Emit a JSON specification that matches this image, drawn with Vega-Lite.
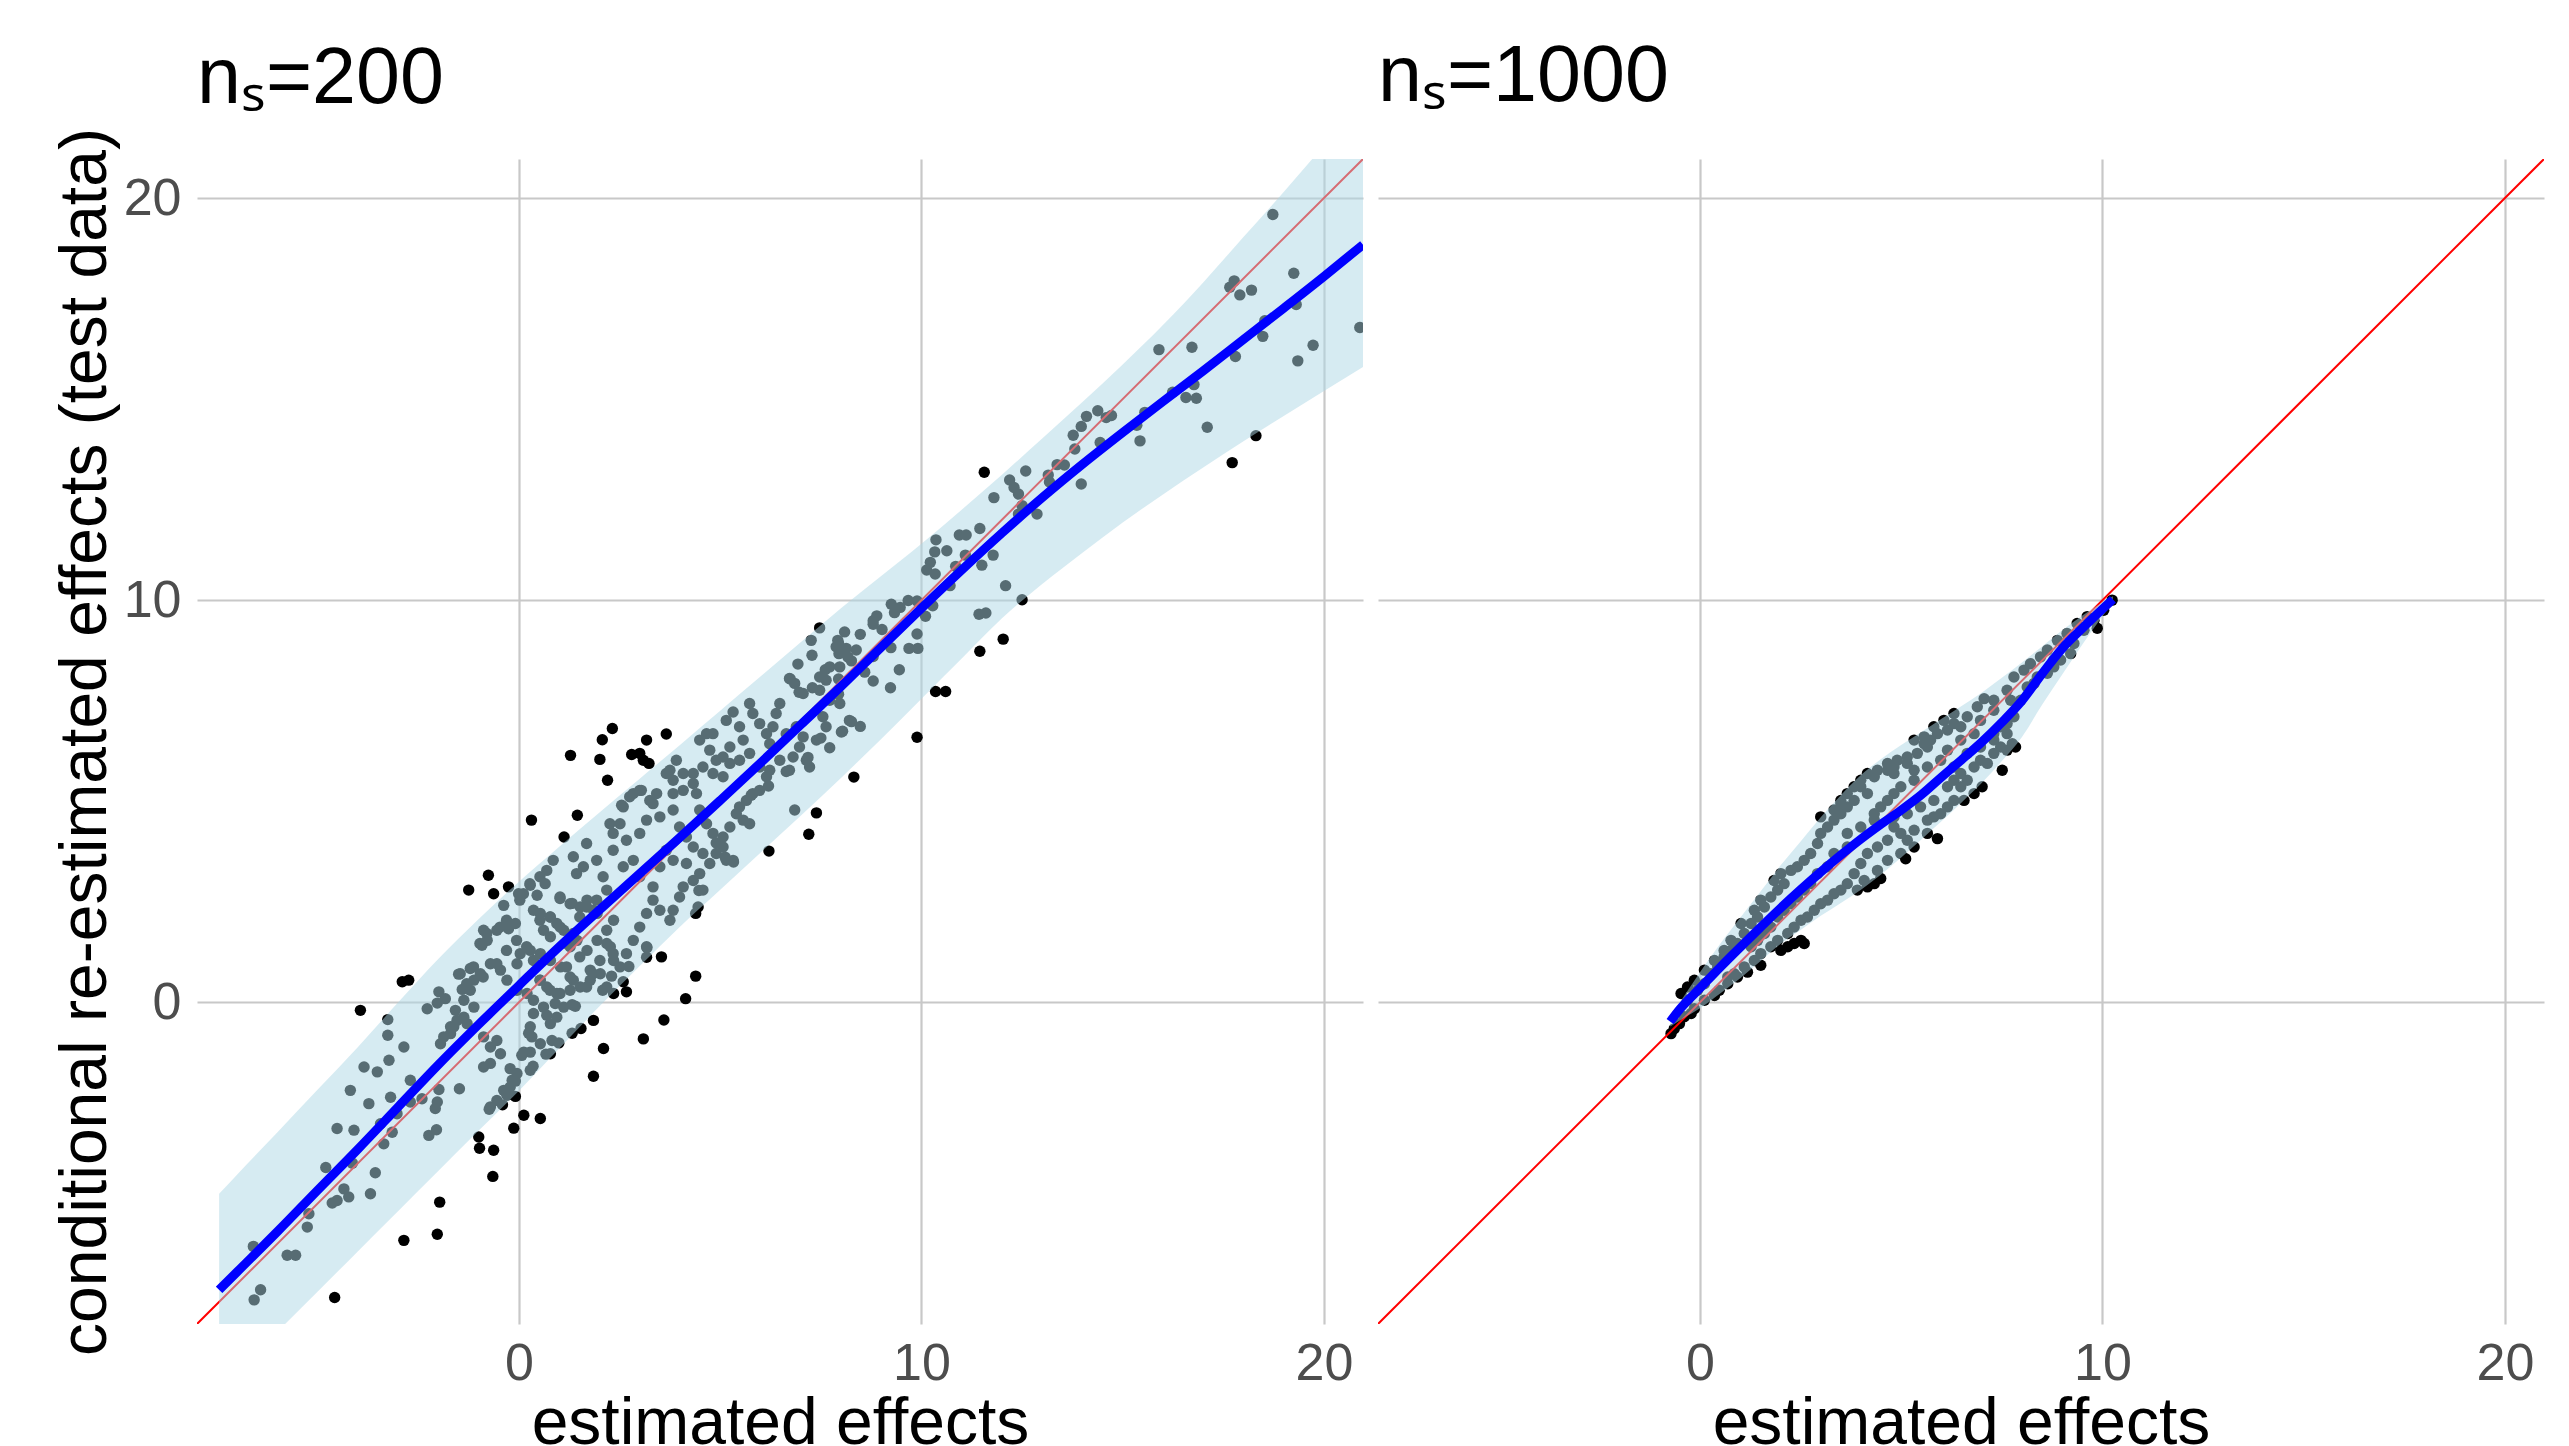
{
"$schema": "https://vega.github.io/schema/vega-lite/v6.json",
"background": "white",
"padding": {"left": 52, "top": 38, "right": 5, "bottom": 0},
"spacing": 15,
"config": {
  "view": {"stroke": null},
  "font": "Liberation Sans",
  "title": {"fontSize": 79, "fontWeight": "normal", "color": "#000000", "anchor": "start", "frame": "group", "baseline": "alphabetic"},
  "axis": {"grid": true, "gridColor": "#C8C8C8", "gridWidth": 2.2, "domain": false, "ticks": false, "labelFontSize": 52, "labelColor": "#4D4D4D", "titleFontSize": 66, "titleFontWeight": "normal", "titleColor": "#000000", "labelFlush": false}
},
"datasets": {
"diag": [{"x": -8, "y": -8}, {"x": 20.97, "y": 20.97}],
"s200": [
{"x":-7.45,"fit":-7.15,"lower":-9.64,"upper":-4.76},{"x":-7,"fit":-6.7,"lower":-9.2,"upper":-4.28},{"x":-6,"fit":-5.7,"lower":-8.19,"upper":-3.23},{"x":-5,"fit":-4.67,"lower":-7.19,"upper":-2.17},{"x":-4,"fit":-3.65,"lower":-6.19,"upper":-1.11},{"x":-3,"fit":-2.6,"lower":-5.19,"upper":0.0},{"x":-2,"fit":-1.55,"lower":-4.19,"upper":1.08},{"x":-1,"fit":-0.55,"lower":-3.19,"upper":2.07},{"x":0,"fit":0.42,"lower":-2.2,"upper":3.0},{"x":1,"fit":1.38,"lower":-1.15,"upper":3.87},{"x":2,"fit":2.3,"lower":-0.1,"upper":4.72},{"x":3,"fit":3.2,"lower":0.9,"upper":5.56},{"x":4,"fit":4.1,"lower":1.88,"upper":6.4},{"x":5,"fit":5.02,"lower":2.8,"upper":7.25},{"x":6,"fit":5.95,"lower":3.72,"upper":8.1},{"x":7,"fit":6.9,"lower":4.64,"upper":8.95},{"x":8,"fit":7.85,"lower":5.58,"upper":9.8},{"x":9,"fit":8.83,"lower":6.55,"upper":10.6},{"x":10,"fit":9.8,"lower":7.55,"upper":11.4},{"x":11,"fit":10.75,"lower":8.55,"upper":12.25},{"x":12,"fit":11.67,"lower":9.55,"upper":13.12},{"x":13,"fit":12.55,"lower":10.4,"upper":14.02},{"x":14,"fit":13.38,"lower":11.18,"upper":14.93},{"x":15,"fit":14.17,"lower":11.93,"upper":15.86},{"x":16,"fit":14.94,"lower":12.63,"upper":16.84},{"x":17,"fit":15.7,"lower":13.3,"upper":17.9},{"x":18,"fit":16.48,"lower":13.95,"upper":19.03},{"x":19,"fit":17.26,"lower":14.58,"upper":20.15},{"x":20,"fit":18.05,"lower":15.2,"upper":21.3},{"x":20.97,"fit":18.84,"lower":15.8,"upper":22.35}
],
"s1000": [
{"x":-0.74,"fit":-0.48,"lower":-0.6,"upper":-0.36},{"x":-0.5,"fit":-0.17,"lower":-0.45,"upper":0.0},{"x":0,"fit":0.35,"lower":-0.15,"upper":0.75},{"x":0.5,"fit":0.87,"lower":0.22,"upper":1.45},{"x":1,"fit":1.37,"lower":0.6,"upper":2.1},{"x":1.5,"fit":1.86,"lower":1.02,"upper":2.75},{"x":2,"fit":2.34,"lower":1.45,"upper":3.4},{"x":2.5,"fit":2.8,"lower":1.8,"upper":4.0},{"x":3,"fit":3.24,"lower":2.15,"upper":4.6},{"x":3.5,"fit":3.66,"lower":2.47,"upper":5.15},{"x":4,"fit":4.06,"lower":2.8,"upper":5.65},{"x":4.5,"fit":4.43,"lower":3.18,"upper":6.05},{"x":5,"fit":4.78,"lower":3.6,"upper":6.4},{"x":5.5,"fit":5.16,"lower":4.05,"upper":6.72},{"x":6,"fit":5.6,"lower":4.5,"upper":7.05},{"x":6.5,"fit":6.03,"lower":4.97,"upper":7.37},{"x":7,"fit":6.47,"lower":5.45,"upper":7.7},{"x":7.5,"fit":6.96,"lower":6.0,"upper":8.07},{"x":8,"fit":7.5,"lower":6.6,"upper":8.45},{"x":8.5,"fit":8.17,"lower":7.4,"upper":8.85},{"x":9,"fit":8.8,"lower":8.15,"upper":9.25},{"x":9.5,"fit":9.3,"lower":8.9,"upper":9.62},{"x":10,"fit":9.78,"lower":9.6,"upper":9.95},{"x":10.26,"fit":10.02,"lower":9.95,"upper":10.1}
],
"p200": [
{"x":-1.25,"y":2.79},{"x":-0.63,"y":2.70},{"x":-0.26,"y":2.87},{"x":-2.90,"y":0.51},{"x":-2.74,"y":0.55},{"x":-3.94,"y":-0.20},{"x":1.85,"y":-0.45},{"x":2.10,"y":-1.15},{"x":0.78,"y":-1.28},{"x":1.85,"y":-1.84},{"x":-0.09,"y":-2.34},{"x":0.12,"y":-2.81},{"x":0.53,"y":-2.89},{"x":-0.13,"y":-3.13},{"x":-1.00,"y":-3.35},{"x":-0.98,"y":-3.63},{"x":-0.63,"y":-3.68},{"x":-0.65,"y":-4.33},{"x":-1.97,"y":-4.97},{"x":-2.03,"y":-5.77},{"x":-2.86,"y":-5.92},{"x":-4.58,"y":-7.34},
{"x":-6.58,"y":-7.40},{"x":-6.42,"y":-7.15},{"x":-6.60,"y":-6.07},{"x":-5.76,"y":-6.29},{"x":-5.55,"y":-6.29},{"x":-5.26,"y":-5.59},{"x":-5.22,"y":-5.26},{"x":-4.80,"y":-4.11},{"x":-4.64,"y":-4.99},{"x":-4.52,"y":-4.93},{"x":-4.35,"y":-4.64},{"x":-4.23,"y":-4.84},{"x":-4.14,"y":-4.00},{"x":-3.69,"y":-4.76},{"x":-3.57,"y":-4.24},{"x":-4.52,"y":-3.14},{"x":-4.10,"y":-3.18},{"x":-3.36,"y":-3.52},{"x":-3.15,"y":-3.23},{"x":-3.44,"y":-3.02},{"x":-3.73,"y":-2.52},{"x":-4.19,"y":-2.19},{"x":-3.85,"y":-1.61},{"x":-3.52,"y":-1.73},{"x":-3.23,"y":-1.44},{"x":-3.19,"y":-2.36},{"x":-3.03,"y":-2.77},{"x":-2.86,"y":-1.11},{"x":-3.26,"y":-0.82},{"x":-3.26,"y":-0.43},{"x":-2.70,"y":-1.94},{"x":-2.70,"y":-2.48},{"x":-2.41,"y":-2.40},{"x":-2.03,"y":-2.48},{"x":-2.08,"y":-2.64},{"x":-1.99,"y":-2.17},{"x":-2.24,"y":-3.31},{"x":-2.05,"y":-3.17},{"x":-1.48,"y":-2.15},{"x":-2.28,"y":-0.16},{"x":-1.99,"y":0.26},{"x":-1.83,"y":0.09},{"x":-2.03,"y":-0.02},{"x":-1.50,"y":0.70},{"x":-1.41,"y":0.32},{"x":-1.58,"y":-0.20},{"x":-1.37,"y":-0.37},{"x":-1.12,"y":-0.12},{"x":-1.21,"y":0.84},{"x":-0.96,"y":0.67},{"x":-1.12,"y":0.55},{"x":-0.88,"y":1.79},{"x":-0.79,"y":1.54},{"x":-0.92,"y":1.42},{"x":-0.55,"y":1.79},{"x":-0.26,"y":1.83},{"x":-0.09,"y":1.96},{"x":-0.38,"y":2.41},{"x":-0.01,"y":2.70},{"x":0.45,"y":2.66},{"x":1.02,"y":2.58},{"x":1.32,"y":2.46},{"x":0.28,"y":2.91},{"x":0.65,"y":2.95},{"x":-1.87,"y":-0.86},{"x":-1.70,"y":-0.78},{"x":-1.95,"y":-1.03},{"x":-1.62,"y":-0.61},{"x":-1.54,"y":-0.45},{"x":-1.29,"y":-0.53},{"x":-0.88,"y":-0.86},{"x":-0.71,"y":-1.11},{"x":-0.55,"y":-0.95},{"x":-0.46,"y":-1.28},{"x":-0.88,"y":-1.61},{"x":-0.71,"y":-1.52},{"x":-0.38,"y":-2.19},{"x":-0.22,"y":-2.11},{"x":-0.17,"y":-1.94},{"x":-0.71,"y":-2.60},{"x":-0.55,"y":-2.44},{"x":-0.22,"y":-1.65},{"x":-0.05,"y":-1.77},{"x":0.28,"y":-1.69},{"x":0.07,"y":-1.32},{"x":0.28,"y":-1.24},{"x":0.32,"y":-0.86},{"x":0.53,"y":-1.03},{"x":0.82,"y":-0.95},{"x":0.28,"y":-0.61},{"x":0.36,"y":-0.28},{"x":0.69,"y":-0.32},{"x":0.94,"y":-0.37},{"x":0.90,"y":-0.03},{"x":1.11,"y":-0.12},{"x":1.40,"y":-0.10},
{"x":0.53,"y":2.21},{"x":0.78,"y":2.12},{"x":0.94,"y":1.96},{"x":1.11,"y":1.79},{"x":0.78,"y":1.63},{"x":0.61,"y":1.79},{"x":1.27,"y":1.38},{"x":1.44,"y":1.54},{"x":1.69,"y":1.29},{"x":1.94,"y":1.54},{"x":2.18,"y":1.79},{"x":2.35,"y":2.04},{"x":1.94,"y":2.21},{"x":1.52,"y":2.37},{"x":1.69,"y":2.54},{"x":1.85,"y":2.29},{"x":2.27,"y":1.38},{"x":2.35,"y":1.04},{"x":2.02,"y":0.71},{"x":1.77,"y":0.55},{"x":1.52,"y":0.38},{"x":1.27,"y":0.63},{"x":1.03,"y":0.88},{"x":0.78,"y":1.04},{"x":0.53,"y":1.21},{"x":0.28,"y":1.29},{"x":0.03,"y":1.21},{"x":-0.05,"y":0.96},{"x":0.53,"y":0.55},{"x":0.69,"y":0.38},{"x":0.94,"y":0.22},{"x":1.27,"y":0.30},{"x":1.77,"y":0.80},{"x":2.18,"y":0.38},{"x":2.35,"y":0.22},{"x":-0.96,"y":0.71},{"x":-0.71,"y":0.96},{"x":-0.46,"y":0.80},{"x":-0.30,"y":0.55},{"x":-0.05,"y":0.30},{"x":0.20,"y":0.22},{"x":0.36,"y":0.05},{"x":0.61,"y":-0.12},{"x":-1.70,"y":-0.61},{"x":-1.37,"y":0.05},{"x":-1.21,"y":0.30},
{"x":0.12,"y":-1.24},{"x":0.35,"y":-1.59},{"x":-0.09,"y":-1.96},{"x":-0.30,"y":-2.31},{"x":-0.41,"y":-2.55},{"x":-0.74,"y":-2.66},{"x":0.67,"y":-1.29},{"x":0.99,"y":-1.01},{"x":1.32,"y":-0.77},{"x":1.54,"y":-0.65},{"x":0.78,"y":-0.53},{"x":0.24,"y":-0.77},{"x":1.32,"y":-0.06},{"x":2.08,"y":0.30},{"x":2.30,"y":0.65},{"x":2.73,"y":0.89},{"x":3.17,"y":1.12},{"x":3.18,"y":1.36},
{"x":8.26,"y":6.98},{"x":8.48,"y":6.86},{"x":8.04,"y":6.74},{"x":7.50,"y":6.57},{"x":7.72,"y":6.33},{"x":7.18,"y":6.09},{"x":6.64,"y":5.74},{"x":6.20,"y":5.38},{"x":5.77,"y":5.15},{"x":5.12,"y":3.61},{"x":5.33,"y":3.49},{"x":4.90,"y":3.96},{"x":4.47,"y":2.78},
{"x":9.89,"y":6.59},{"x":8.32,"y":5.60},{"x":3.60,"y":-0.44},{"x":3.09,"y":-0.91},
{"x":7.47,"y":9.31},{"x":7.26,"y":9.00},{"x":2.32,"y":6.81},{"x":2.07,"y":6.53},{"x":3.17,"y":6.52},{"x":3.66,"y":6.67},{"x":1.28,"y":6.14},{"x":2.01,"y":6.04},{"x":2.80,"y":6.16},{"x":3.00,"y":6.19},{"x":3.09,"y":6.02},{"x":3.23,"y":5.94},{"x":2.20,"y":5.52},{"x":0.31,"y":4.53},{"x":1.45,"y":4.65},{"x":1.12,"y":4.11},{"x":-0.76,"y":3.16},{"x":6.85,"y":4.78},{"x":7.39,"y":4.71},{"x":7.20,"y":4.18},{"x":6.21,"y":3.76},{"x":4.45,"y":2.37},{"x":4.39,"y":2.21},{"x":3.54,"y":1.13},{"x":4.39,"y":0.65},{"x":2.59,"y":0.51},{"x":2.67,"y":0.26},{"x":4.14,"y":0.09},
{"x":8.09,"y":9.21},{"x":7.92,"y":9.00},{"x":7.88,"y":8.84},{"x":8.17,"y":8.59},{"x":8.38,"y":8.76},{"x":7.97,"y":8.34},{"x":7.72,"y":8.34},{"x":7.47,"y":8.09},{"x":7.63,"y":8.01},{"x":6.93,"y":8.41},{"x":6.72,"y":8.05},{"x":6.85,"y":7.93},{"x":7.06,"y":7.68},{"x":7.47,"y":7.76},{"x":7.72,"y":7.51},{"x":7.97,"y":7.43},{"x":8.21,"y":7.01},{"x":8.01,"y":6.72},{"x":7.55,"y":7.10},{"x":7.63,"y":6.85},{"x":7.39,"y":6.52},{"x":7.14,"y":6.02},{"x":7.22,"y":5.85},{"x":6.72,"y":5.77},{"x":6.97,"y":6.35},{"x":6.81,"y":6.10},{"x":6.48,"y":7.43},{"x":6.39,"y":7.18},{"x":5.73,"y":7.43},{"x":5.81,"y":7.18},{"x":5.98,"y":6.93},{"x":6.15,"y":6.68},{"x":6.23,"y":6.43},{"x":6.31,"y":6.85},{"x":6.64,"y":6.68},{"x":6.89,"y":6.85},{"x":7.06,"y":6.60},{"x":5.32,"y":7.22},{"x":5.15,"y":7.01},{"x":4.82,"y":6.68},{"x":5.48,"y":6.85},{"x":5.57,"y":6.52},{"x":5.24,"y":6.35},{"x":5.07,"y":6.10},{"x":5.24,"y":5.94},{"x":5.48,"y":6.02},{"x":5.73,"y":6.19},{"x":5.98,"y":5.85},{"x":6.15,"y":5.61},{"x":6.23,"y":5.77},{"x":6.48,"y":6.02},{"x":5.98,"y":5.27},{"x":5.81,"y":5.19},{"x":5.65,"y":5.02},{"x":5.48,"y":4.86},{"x":5.40,"y":4.69},{"x":5.57,"y":4.53},{"x":5.73,"y":4.44},{"x":5.24,"y":4.36},{"x":5.07,"y":4.11},{"x":4.82,"y":4.20},{"x":4.66,"y":4.44},{"x":4.49,"y":4.78},{"x":4.41,"y":5.19},{"x":4.33,"y":5.44},{"x":4.08,"y":5.69},{"x":3.91,"y":6.02},{"x":3.66,"y":5.69},{"x":3.83,"y":5.52},{"x":3.42,"y":5.19},{"x":3.25,"y":5.02},{"x":3.00,"y":5.27},{"x":2.75,"y":5.11},{"x":2.59,"y":4.86},{"x":2.51,"y":4.44},{"x":2.34,"y":4.20},{"x":2.67,"y":4.03},{"x":3.00,"y":4.20},{"x":3.17,"y":4.53},{"x":3.50,"y":4.61},{"x":3.83,"y":4.78},{"x":3.99,"y":4.36},{"x":4.16,"y":4.11},{"x":4.33,"y":3.86},{"x":4.57,"y":3.70},{"x":4.74,"y":3.45},{"x":4.90,"y":3.70},{"x":5.15,"y":3.53},{"x":5.32,"y":3.53},{"x":5.07,"y":3.86},{"x":4.49,"y":3.20},{"x":4.33,"y":3.03},{"x":4.57,"y":2.79},{"x":4.08,"y":2.87},{"x":3.99,"y":2.62},{"x":3.83,"y":2.29},{"x":3.75,"y":2.04},{"x":3.50,"y":2.29},{"x":3.33,"y":2.54},{"x":3.17,"y":2.21},{"x":3.00,"y":1.87},{"x":2.84,"y":1.54},{"x":3.17,"y":1.38},{"x":2.67,"y":1.21},{"x":2.51,"y":0.88},{"x":2.34,"y":1.21},{"x":2.18,"y":1.46},{"x":2.01,"y":1.04},{"x":1.84,"y":0.71},{"x":1.68,"y":0.38},{"x":1.35,"y":0.55},{"x":1.18,"y":0.88},{"x":1.51,"y":1.13},{"x":1.18,"y":1.46},{"x":1.02,"y":1.87},{"x":0.77,"y":2.12},{"x":0.52,"y":2.04},{"x":0.36,"y":2.29},{"x":0.11,"y":2.70},{"x":0.02,"y":2.54},{"x":-0.31,"y":2.04},{"x":-0.47,"y":1.87},{"x":-0.80,"y":1.71},{"x":-0.97,"y":1.46},{"x":-1.13,"y":0.88},{"x":-1.46,"y":0.71},{"x":-1.30,"y":0.46},{"x":-0.89,"y":0.63},{"x":-0.55,"y":0.96},{"x":-0.31,"y":1.29},{"x":-0.06,"y":1.54},{"x":0.19,"y":1.38},{"x":0.36,"y":1.04},{"x":0.52,"y":0.55},{"x":0.77,"y":0.30},{"x":1.02,"y":0.22},{"x":0.27,"y":2.95},{"x":0.52,"y":3.12},{"x":0.69,"y":3.28},{"x":0.85,"y":3.53},{"x":1.35,"y":3.62},{"x":1.43,"y":3.20},{"x":1.60,"y":3.37},{"x":1.68,"y":3.95},{"x":1.93,"y":3.53},{"x":2.09,"y":3.12},{"x":2.18,"y":2.79},{"x":1.93,"y":2.54},{"x":1.68,"y":2.37},{"x":1.51,"y":2.12},{"x":1.35,"y":1.71},{"x":1.02,"y":2.62},{"x":1.27,"y":2.45},{"x":2.59,"y":3.37},{"x":2.84,"y":3.53},{"x":3.00,"y":3.12},{"x":3.33,"y":2.87},{"x":3.50,"y":3.37},{"x":3.66,"y":3.78},{"x":3.83,"y":3.53},{"x":4.16,"y":3.45},{"x":2.34,"y":3.78},{"x":2.26,"y":4.44},{"x":2.55,"y":4.90},{"x":2.84,"y":5.19},{"x":3.04,"y":5.27},{"x":3.33,"y":4.94},{"x":3.83,"y":5.19},{"x":4.08,"y":5.27},{"x":4.33,"y":5.69},{"x":4.57,"y":5.85},{"x":4.82,"y":5.69},{"x":5.07,"y":5.61},{"x":3.75,"y":5.77},{"x":4.74,"y":6.27},{"x":4.90,"y":6.02},{"x":4.66,"y":6.68},{"x":4.49,"y":6.52},
{"x":9.67,"y":9.99},{"x":9.89,"y":9.16},{"x":10.10,"y":9.60},{"x":8.80,"y":9.49},{"x":9.02,"y":9.27},{"x":8.48,"y":9.15},{"x":7.94,"y":8.93},{"x":9.24,"y":8.82},{"x":8.80,"y":8.60},{"x":8.26,"y":8.49},{"x":7.61,"y":8.27},{"x":7.94,"y":8.04},{"x":8.59,"y":8.21},{"x":8.80,"y":7.99},{"x":9.45,"y":8.27},{"x":9.23,"y":7.82},{"x":7.29,"y":7.82},{"x":7.94,"y":7.66},{"x":6.74,"y":8.04},{"x":6.96,"y":7.71},{"x":11.45,"y":8.73},{"x":10.35,"y":7.73},{"x":10.60,"y":7.73},
{"x":18.73,"y":19.59},{"x":19.25,"y":18.13},{"x":19.31,"y":17.35},{"x":17.66,"y":17.78},{"x":17.77,"y":17.94},{"x":17.91,"y":17.59},{"x":18.20,"y":17.71},{"x":18.53,"y":16.95},{"x":18.48,"y":16.56},{"x":17.80,"y":16.06},{"x":19.35,"y":15.95},{"x":19.73,"y":16.34},{"x":15.90,"y":16.23},{"x":16.72,"y":16.29},{"x":16.77,"y":15.36},{"x":16.57,"y":15.04},{"x":16.83,"y":15.02},{"x":16.24,"y":15.17},{"x":17.10,"y":14.30},{"x":15.43,"y":13.96},{"x":15.35,"y":14.35},{"x":15.55,"y":14.67},{"x":14.10,"y":14.57},{"x":14.38,"y":14.71},{"x":14.59,"y":14.54},{"x":14.72,"y":14.59},{"x":14.44,"y":13.92},{"x":13.97,"y":14.32},{"x":13.77,"y":14.10},{"x":13.81,"y":13.76},{"x":13.97,"y":12.89},{"x":13.37,"y":13.37},{"x":13.55,"y":13.36},{"x":13.15,"y":13.11},{"x":13.18,"y":12.94},{"x":12.59,"y":13.21},{"x":12.19,"y":12.99},{"x":12.30,"y":12.80},{"x":12.41,"y":12.64},{"x":12.50,"y":12.35},{"x":12.41,"y":12.14},{"x":12.87,"y":12.14},{"x":11.80,"y":12.55},{"x":11.45,"y":11.78},{"x":10.94,"y":11.62},{"x":11.11,"y":11.62},{"x":11.09,"y":11.12},{"x":11.78,"y":11.12},{"x":11.50,"y":10.87},{"x":10.36,"y":11.50},{"x":10.33,"y":11.20},{"x":10.63,"y":11.23},{"x":10.22,"y":10.94},{"x":10.13,"y":10.75},{"x":10.34,"y":10.65},{"x":10.85,"y":10.84},{"x":10.71,"y":10.36},{"x":12.09,"y":10.36},{"x":11.43,"y":9.65},{"x":11.60,"y":9.68},{"x":9.89,"y":9.98},{"x":9.25,"y":9.90},{"x":9.47,"y":9.82},{"x":9.33,"y":9.69},{"x":8.89,"y":9.61},{"x":8.80,"y":9.40},{"x":10.28,"y":9.86},{"x":9.91,"y":8.80},{"x":9.69,"y":8.80},{"x":8.13,"y":8.80},{"x":7.95,"y":8.67},{"x":7.28,"y":8.63},
{"x":11.56,"y":13.18},{"x":12.50,"y":10.01},{"x":17.72,"y":13.42},{"x":18.31,"y":14.09},{"x":20.89,"y":16.78},{"x":12.03,"y":9.03}
],
"p1000": [
{"x":-0.72,"y":-0.78},{"x":-0.64,"y":-0.66},{"x":-0.51,"y":-0.53},{"x":-0.39,"y":-0.36},{"x":-0.22,"y":-0.28},{"x":-0.14,"y":-0.16},{"x":0.11,"y":0.05},{"x":0.36,"y":0.17},{"x":0.48,"y":0.30},{"x":0.69,"y":0.46},{"x":0.93,"y":0.63},{"x":1.18,"y":0.75},{"x":1.51,"y":0.92},{"x":2.01,"y":1.29},{"x":2.18,"y":1.38},{"x":2.34,"y":1.46},{"x":2.51,"y":1.54},{"x":2.59,"y":1.46},{"x":4.33,"y":2.95},{"x":4.49,"y":3.08},{"x":4.16,"y":2.87},{"x":5.11,"y":3.57},{"x":5.90,"y":4.07},{"x":6.56,"y":5.02},{"x":6.81,"y":5.19},{"x":7.01,"y":5.36},{"x":7.51,"y":5.77},{"x":7.63,"y":6.27},{"x":7.76,"y":6.43},{"x":7.84,"y":6.35},{"x":9.87,"y":9.30},{"x":10.24,"y":10.0},
{"x":-0.47,"y":0.22},{"x":-0.31,"y":0.38},{"x":-0.14,"y":0.55},{"x":0.11,"y":0.80},{"x":0.36,"y":1.04},{"x":0.60,"y":1.29},{"x":0.77,"y":1.54},{"x":1.02,"y":1.96},{"x":1.35,"y":2.29},{"x":1.51,"y":2.54},{"x":1.84,"y":3.03},{"x":2.01,"y":3.20},{"x":3.33,"y":4.78},{"x":3.50,"y":4.94},
{"x":3.00,"y":4.61},{"x":4.82,"y":5.85},{"x":3.995,"y":5.36},{"x":4.33,"y":5.61},{"x":4.66,"y":5.77},{"x":4.82,"y":5.69},{"x":5.15,"y":5.94},{"x":5.32,"y":5.77},{"x":5.57,"y":6.43},{"x":5.73,"y":6.52},{"x":5.90,"y":6.68},{"x":6.15,"y":6.77},{"x":6.31,"y":6.93},{"x":6.48,"y":6.85},{"x":6.64,"y":7.10},{"x":6.89,"y":7.35},{"x":7.06,"y":7.55},{"x":7.30,"y":7.51},{"x":7.63,"y":7.76},{"x":7.80,"y":8.09},{"x":8.05,"y":8.26},{"x":8.21,"y":8.42},{"x":8.46,"y":8.59},{"x":8.63,"y":8.76},{"x":8.88,"y":9.00},{"x":9.12,"y":9.17},{"x":9.37,"y":9.42},{"x":9.62,"y":9.59},{"x":9.21,"y":8.67},{"x":8.79,"y":8.34},{"x":8.38,"y":8.09},{"x":8.13,"y":7.84},{"x":7.72,"y":7.51},{"x":7.63,"y":6.93},{"x":7.30,"y":7.26},{"x":6.97,"y":7.01},{"x":6.81,"y":6.68},{"x":6.48,"y":6.52},{"x":6.15,"y":6.27},{"x":5.98,"y":6.02},{"x":5.65,"y":5.85},{"x":5.32,"y":5.52},{"x":4.99,"y":5.36},{"x":4.82,"y":5.19},{"x":4.66,"y":5.02},{"x":4.49,"y":4.86},{"x":4.33,"y":4.69},{"x":4.16,"y":5.19},{"x":3.83,"y":5.02},{"x":3.66,"y":4.86},{"x":3.50,"y":4.69},{"x":3.33,"y":4.53},{"x":3.17,"y":4.36},{"x":3.00,"y":4.20},{"x":2.92,"y":3.95},{"x":2.75,"y":3.70},{"x":2.59,"y":3.53},{"x":2.42,"y":3.37},{"x":2.26,"y":3.28},{"x":2.09,"y":2.95},{"x":1.93,"y":2.79},{"x":1.76,"y":2.62},{"x":1.60,"y":2.37},{"x":1.43,"y":2.12},{"x":1.27,"y":1.96},{"x":1.10,"y":1.71},{"x":0.93,"y":1.46},{"x":0.77,"y":1.29},{"x":0.60,"y":1.13},{"x":0.44,"y":0.88},{"x":0.27,"y":0.71},{"x":0.11,"y":0.46},{"x":-0.06,"y":0.30},{"x":-0.31,"y":0.05},
{"x":3.66,"y":4.20},{"x":3.995,"y":4.36},{"x":4.33,"y":4.53},{"x":4.82,"y":4.61},{"x":5.15,"y":4.69},{"x":5.48,"y":4.86},{"x":5.81,"y":5.02},{"x":6.15,"y":5.36},{"x":6.31,"y":5.52},{"x":6.48,"y":5.69},{"x":6.81,"y":5.85},{"x":6.97,"y":6.02},{"x":7.14,"y":5.94},{"x":7.30,"y":6.19},{"x":7.47,"y":6.35},{"x":7.63,"y":6.68},{"x":5.98,"y":4.69},{"x":5.65,"y":4.53},{"x":5.32,"y":4.28},{"x":4.99,"y":4.20},{"x":4.66,"y":4.03},{"x":4.41,"y":3.86},{"x":4.16,"y":3.70},{"x":3.995,"y":3.45},{"x":3.83,"y":3.20},{"x":3.66,"y":2.95},{"x":3.50,"y":2.79},{"x":3.33,"y":2.70},{"x":3.17,"y":2.54},{"x":3.00,"y":2.45},{"x":2.84,"y":2.29},{"x":2.67,"y":2.12},{"x":2.51,"y":2.04},{"x":2.34,"y":1.87},{"x":2.18,"y":1.71},{"x":1.93,"y":1.54},{"x":1.76,"y":1.38},{"x":1.51,"y":1.21},{"x":1.35,"y":1.04},{"x":1.10,"y":0.88},{"x":0.85,"y":0.71},{"x":0.69,"y":0.63},{"x":3.66,"y":3.86},{"x":3.33,"y":3.70},{"x":3.17,"y":3.37},{"x":2.92,"y":3.20},{"x":2.75,"y":2.95},{"x":2.59,"y":2.79},{"x":2.42,"y":2.62},{"x":2.26,"y":2.45},{"x":2.09,"y":2.29},{"x":1.93,"y":2.12},{"x":1.76,"y":1.87},{"x":1.60,"y":1.71},{"x":1.43,"y":1.54},{"x":1.27,"y":1.38},{"x":4.82,"y":4.36},{"x":5.15,"y":4.03},{"x":6.15,"y":4.86},{"x":6.48,"y":5.36},{"x":6.64,"y":5.52},{"x":6.31,"y":5.02},{"x":5.81,"y":4.61},{"x":5.65,"y":4.20},{"x":5.32,"y":3.86},{"x":4.99,"y":3.70},{"x":4.66,"y":3.53},{"x":4.41,"y":3.28},{"x":4.08,"y":3.03},{"x":3.91,"y":2.79},{"x":6.31,"y":5.85},{"x":6.64,"y":6.19},{"x":6.97,"y":6.35},{"x":7.30,"y":6.52},{"x":8.63,"y":8.18},{"x":8.96,"y":8.51},{"x":9.29,"y":8.92},{"x":8.79,"y":8.51},{"x":8.30,"y":7.93},{"x":7.97,"y":7.51},{"x":7.80,"y":7.10},{"x":7.47,"y":6.85},{"x":7.30,"y":6.68},{"x":9.54,"y":9.25},{"x":9.79,"y":9.50},{"x":10.03,"y":9.75},{"x":3.50,"y":5.02},{"x":3.66,"y":5.19},{"x":3.83,"y":5.36},{"x":3.995,"y":5.52},{"x":4.16,"y":5.69},{"x":4.41,"y":5.77},{"x":4.66,"y":5.94},{"x":4.90,"y":6.02},{"x":5.15,"y":6.10},{"x":5.40,"y":6.19},{"x":5.65,"y":6.35},{"x":5.32,"y":6.52},{"x":5.57,"y":6.60},{"x":5.81,"y":6.85},{"x":6.06,"y":7.01},{"x":6.31,"y":7.18}
]
},
"hconcat": [
{
  "width": 1166, "height": 1165,
  "title": {"text": "nₛ=200", "offset": 8},
  "layer": [
    {"data": {"name": "p200"}, "mark": {"type": "circle", "size": 130, "color": "#000000", "opacity": 1, "clip": true},
     "encoding": {
       "x": {"field": "x", "type": "quantitative", "scale": {"domain": [-8, 20.97], "nice": false, "zero": false}, "axis": {"values": [0, 10, 20], "title": "estimated effects", "labelPadding": 14, "titlePadding": 2}},
       "y": {"field": "y", "type": "quantitative", "scale": {"domain": [-8, 20.97], "nice": false, "zero": false}, "axis": {"values": [0, 10, 20], "title": "conditional re-estimated effects (test data)", "labelPadding": 16, "titlePadding": 4}}
     }},
    {"data": {"name": "diag"}, "mark": {"type": "line", "color": "#FF0000", "strokeWidth": 2, "clip": true},
     "encoding": {"x": {"field": "x", "type": "quantitative"}, "y": {"field": "y", "type": "quantitative"}}},
    {"data": {"name": "s200"}, "mark": {"type": "area", "color": "#ADD8E6", "opacity": 0.5, "clip": true, "interpolate": "monotone"},
     "encoding": {"x": {"field": "x", "type": "quantitative"}, "y": {"field": "lower", "type": "quantitative"}, "y2": {"field": "upper"}}},
    {"data": {"name": "s200"}, "mark": {"type": "line", "color": "#0000FF", "strokeWidth": 9, "clip": true, "interpolate": "monotone"},
     "encoding": {"x": {"field": "x", "type": "quantitative"}, "y": {"field": "fit", "type": "quantitative"}}}
  ]
},
{
  "width": 1166, "height": 1165,
  "title": {"text": "nₛ=1000", "offset": 41},
  "layer": [
    {"data": {"name": "p1000"}, "mark": {"type": "circle", "size": 130, "color": "#000000", "opacity": 1, "clip": true},
     "encoding": {
       "x": {"field": "x", "type": "quantitative", "scale": {"domain": [-8, 20.97], "nice": false, "zero": false}, "axis": {"values": [0, 10, 20], "title": "estimated effects", "labelPadding": 14, "titlePadding": 2}},
       "y": {"field": "y", "type": "quantitative", "scale": {"domain": [-8, 20.97], "nice": false, "zero": false}, "axis": {"values": [0, 10, 20], "title": null, "labels": false, "minExtent": 0, "maxExtent": 0, "labelPadding": 0}}
     }},
    {"data": {"name": "diag"}, "mark": {"type": "line", "color": "#FF0000", "strokeWidth": 2, "clip": true},
     "encoding": {"x": {"field": "x", "type": "quantitative"}, "y": {"field": "y", "type": "quantitative"}}},
    {"data": {"name": "s1000"}, "mark": {"type": "area", "color": "#ADD8E6", "opacity": 0.5, "clip": true, "interpolate": "monotone"},
     "encoding": {"x": {"field": "x", "type": "quantitative"}, "y": {"field": "lower", "type": "quantitative"}, "y2": {"field": "upper"}}},
    {"data": {"name": "s1000"}, "mark": {"type": "line", "color": "#0000FF", "strokeWidth": 9, "clip": true, "interpolate": "monotone"},
     "encoding": {"x": {"field": "x", "type": "quantitative"}, "y": {"field": "fit", "type": "quantitative"}}}
  ]
}
]
}
